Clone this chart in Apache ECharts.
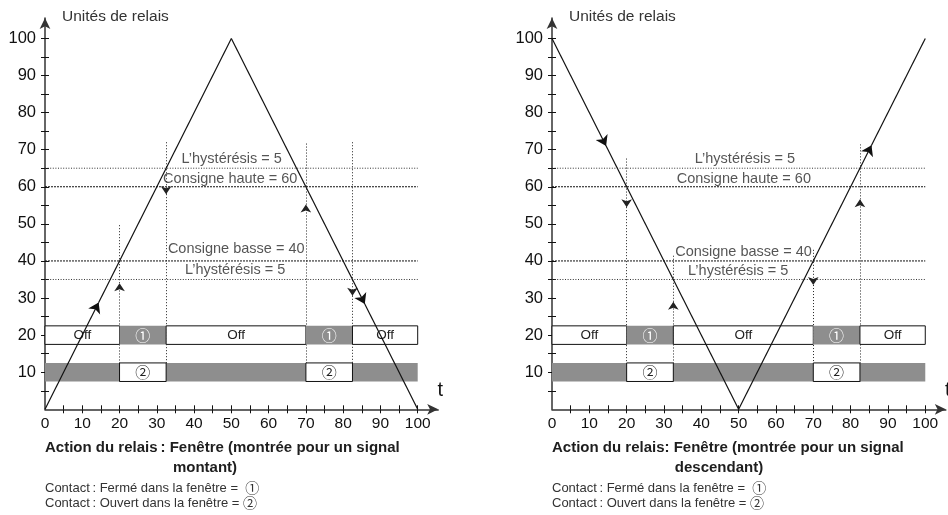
<!DOCTYPE html>
<html><head><meta charset="utf-8">
<script src="https://cdn.jsdelivr.net/npm/echarts@6/dist/echarts.min.js"></script>
<style>html,body{margin:0;padding:0;background:#fff}#c{width:948px;height:515px}</style>
</head><body><div id="c"></div>
<script>
// ---------- data ----------
const xTickValues = [5,10,15,20,25,30,35,40,45,50,55,60,65,70,75,80,85,90,95,100];
const xLabelValues = [0,10,20,30,40,50,60,70,80,90,100];
const yTickValues = [5,10,15,20,25,30,35,40,45,50,55,60,65,70,75,80,85,90,95,100];
const yLabelValues = [10,20,30,40,50,60,70,80,90,100];

const thresholdValues = [65, 60, 40, 35];
const thresholdIsSetpoint = [false, true, true, false];
const noteTexts = ['L\u2019hystérésis = 5', 'Consigne haute = 60', 'Consigne basse = 40', 'L\u2019hystérésis = 5'];

// left chart : rising signal
const risingPath = [[0,0],[50,100],[100,0]];
const risingArrows = [[14.4,28.8],[85.8,28.4]];
const risingSwitchX = [20, 32.5, 70, 82.5];
const risingSwitchTop = [50, 72, 72, 72];
const risingSwitchArrowY = [34, 58, 55.2, 30.6];
const risingSwitchUp = [true, false, true, false];
const risingNotesX = [50.1, 49.7, 51.3, 51.0];
const risingNotesY = [67.4, 62.0, 43.2, 37.5];

// right chart : falling signal
const fallingPath = [[0,100],[50,0],[100,100]];
const fallingArrows = [[14.5,71],[85.6,71.2]];
const fallingSwitchX = [20, 32.5, 70, 82.5];
const fallingSwitchTop = [67.6, 41.5, 43, 71.4];
const fallingSwitchArrowY = [54.5, 29, 33.5, 56.6];
const fallingSwitchUp = [false, true, false, true];
const fallingNotesX = [51.7, 51.4, 51.3, 49.9];
const fallingNotesY = [67.4, 62.0, 42.3, 37.4];

// contact rows (same for both charts)
const row1Start = [0, 20, 32.5, 70, 82.5];
const row1End = [20, 32.5, 70, 82.5, 100];
const row1Closed = [false, true, false, true, false];
const row1Labels = ['Off', '\u2460', 'Off', '\u2460', 'Off'];
const row1Y = 20;
const row2Start = [0, 20, 70];
const row2End = [100, 32.5, 82.5];
const row2Closed = [true, false, false];
const row2Labels = ['', '\u2461', '\u2461'];
const row2Y = 10;
const rowHalf = 2.5;

// ---------- styling ----------
const FONT = '"Liberation Sans", Arial, Helvetica, "DejaVu Sans", "Noto Sans CJK SC", sans-serif';
const CIRCLE_FONT = '"Noto Sans CJK SC", "DejaVu Sans", sans-serif';
const GRAY = '#8e8e8e';
const X_MAX = 105.5, Y_MAX = 105.5;

function isCircled(s){ return s === '\u2460' || s === '\u2461'; }

function mainX(gi){
  return {gridIndex:gi, type:'value', min:0, max:X_MAX, position:'bottom',
    name:'t', nameLocation:'end', nameGap:2,
    nameTextStyle:{fontFamily:FONT, fontSize:20, color:'#111', align:'center', verticalAlign:'bottom', padding:[0,0,9,0]},
    axisLine:{show:true, onZero:false, symbol:['none','arrow'], symbolSize:[8,11], lineStyle:{color:'#333', width:1.5}},
    axisTick:{show:true, customValues:xTickValues, length:4, lineStyle:{color:'#111', width:1}},
    axisLabel:{show:true, customValues:xLabelValues, fontFamily:FONT, fontSize:15.5, color:'#111', margin:7},
    splitLine:{show:false}};
}
function overlayX(gi){
  return {gridIndex:gi, type:'value', min:0, max:X_MAX, position:'bottom',
    axisLine:{show:false}, axisTick:{show:true, inside:true, customValues:xTickValues, length:4, lineStyle:{color:'#111', width:1}},
    axisLabel:{show:false}, splitLine:{show:false}};
}
function mainY(gi){
  return {gridIndex:gi, type:'value', min:0, max:Y_MAX, position:'left',
    name:'Unités de relais', nameLocation:'end', nameGap:1,
    nameTextStyle:{fontFamily:FONT, fontSize:15.5, color:'#333', align:'left', verticalAlign:'middle', padding:[0,0,0,17]},
    axisLine:{show:true, onZero:false, symbol:['none','arrow'], symbolSize:[8,11], lineStyle:{color:'#333', width:1.5}},
    axisTick:{show:true, customValues:yTickValues, length:4, lineStyle:{color:'#111', width:1}},
    axisLabel:{show:true, customValues:yLabelValues, fontFamily:FONT, fontSize:16.5, color:'#111', margin:9},
    splitLine:{show:false}};
}
function overlayY(gi){
  return {gridIndex:gi, type:'value', min:0, max:Y_MAX, position:'left',
    axisLine:{show:false}, axisTick:{show:true, inside:true, customValues:yTickValues, length:4, lineStyle:{color:'#111', width:1}},
    axisLabel:{show:false}, splitLine:{show:false}};
}

function boxSeries(axis, starts, ends, closed, labels, rowY, z){
  return {type:'custom', xAxisIndex:axis, yAxisIndex:axis, silent:true, z:z,
    encode:{x:[0,1], y:2},
    data: starts.map((s,i)=>[s, ends[i], rowY]),
    renderItem:function(params, api){
      const i = params.dataIndex;
      const tl = api.coord([api.value(0), api.value(2)+rowHalf]);
      const br = api.coord([api.value(1), api.value(2)-rowHalf]);
      const isClosed = closed[i];
      const lab = labels[i];
      return {type:'rect',
        shape:{x:tl[0], y:tl[1], width:br[0]-tl[0], height:br[1]-tl[1]},
        style:{fill: isClosed ? GRAY : '#fff', stroke: isClosed ? null : '#111', lineWidth:1},
        textContent:{style:{text:lab, fill: isClosed ? '#fff' : '#222',
          font: isCircled(lab) ? ('15px ' + CIRCLE_FONT) : ('13.5px ' + FONT)}},
        textConfig:{position:'inside'}};
    }};
}

function signalSeries(axis, path, arrows){
  const arrowSegs = [], plainSegs = [];
  for (let i=0;i<path.length-1;i++){
    arrowSegs.push({coords:[path[i], arrows[i]]});
    plainSegs.push({coords:[arrows[i], path[i+1]]});
  }
  const common = {type:'lines', coordinateSystem:'cartesian2d', xAxisIndex:axis, yAxisIndex:axis, silent:true, z:10,
    lineStyle:{color:'#111', width:1.2, opacity:1, curveness:0}};
  return [
    Object.assign({}, common, {symbol:['none','arrow'], symbolSize:10, data:arrowSegs}),
    Object.assign({}, common, {symbol:['none','none'], data:plainSegs})
  ];
}

function switchSeries(axis, xs, tops, arrowYs, ups){
  const bottom = row2Y - rowHalf;
  const arrowSegs = [], plainSegs = [];
  xs.forEach((x,i)=>{
    if (ups[i]) {
      arrowSegs.push({coords:[[x,bottom],[x,arrowYs[i]]]});
      plainSegs.push({coords:[[x,arrowYs[i]],[x,tops[i]]]});
    } else {
      arrowSegs.push({coords:[[x,tops[i]],[x,arrowYs[i]]]});
      plainSegs.push({coords:[[x,arrowYs[i]],[x,bottom]]});
    }
  });
  const common = {type:'lines', coordinateSystem:'cartesian2d', xAxisIndex:axis, yAxisIndex:axis, silent:true, z:3,
    lineStyle:{color:'#222', width:1, type:[1,2], opacity:1}};
  return [
    Object.assign({}, common, {symbol:['none','arrow'], symbolSize:8, data:arrowSegs}),
    Object.assign({}, common, {symbol:['none','none'], data:plainSegs})
  ];
}

function thresholdSeries(axis){
  return thresholdValues.map((v,i)=>({type:'line', xAxisIndex:axis, yAxisIndex:axis, silent:true, z:2,
    symbol:'none', animation:false,
    lineStyle:{color: thresholdIsSetpoint[i] ? '#111' : '#333', width:1, type: thresholdIsSetpoint[i] ? [2,1] : [1,1.6]},
    data:[[0,v],[100,v]]}));
}

function noteSeries(axis, xs, ys){
  return {type:'scatter', xAxisIndex:axis, yAxisIndex:axis, silent:true, z:12, symbolSize:1,
    itemStyle:{color:'rgba(0,0,0,0)'},
    label:{show:true, position:'inside', formatter:p=>p.name, fontFamily:FONT, fontSize:14.5, color:'#2a2a2a'},
    data: xs.map((x,i)=>({name:noteTexts[i], value:[x, ys[i]]}))};
}

function captions(left, lastWord, lastCenter, relaisText){
  const base = {fill:'#1e1e1e', font:'bold 15px ' + FONT};
  const rich = {c:{font:'14px ' + CIRCLE_FONT, fill:'#333'}};
  return [
    {type:'text', x:left, y:448, style:Object.assign({text:relaisText, textVerticalAlign:'middle', textAlign:'left'}, base)},
    {type:'text', x:lastCenter, y:468, style:Object.assign({text:lastWord, textVerticalAlign:'middle', textAlign:'center'}, base)},
    {type:'text', x:left, y:488, style:{text:'Contact\u2009: Fermé dans la fenêtre =  {c|\u2460}', font:'13px ' + FONT, fill:'#333', textVerticalAlign:'middle', rich:rich}},
    {type:'text', x:left, y:503, style:{text:'Contact\u2009: Ouvert dans la fenêtre = {c|\u2461}', font:'13px ' + FONT, fill:'#333', textVerticalAlign:'middle', rich:rich}}
  ];
}

const chart = echarts.init(document.getElementById('c'), null, {renderer:'canvas'});
const option = {
  backgroundColor:'#fff',
  animation:false,
  grid:[
    {left:45, top:18, width:393.2, height:391.3, outerBoundsMode:'none', containLabel:false},
    {left:552, top:18, width:393.8, height:391.3, outerBoundsMode:'none', containLabel:false}
  ],
  xAxis:[mainX(0), overlayX(0), mainX(1), overlayX(1)],
  yAxis:[mainY(0), overlayY(0), mainY(1), overlayY(1)],
  graphic:[].concat(
    captions(45, 'montant)', 205, 'Action du relais\u2009: Fenêtre (montrée pour un signal'),
    captions(552, 'descendant)', 719, 'Action du relais: Fenêtre (montrée pour un signal')
  ),
  series:[].concat(
    thresholdSeries(0),
    switchSeries(0, risingSwitchX, risingSwitchTop, risingSwitchArrowY, risingSwitchUp),
    [boxSeries(0, row1Start, row1End, row1Closed, row1Labels, row1Y, 5),
     boxSeries(0, row2Start, row2End, row2Closed, row2Labels, row2Y, 5)],
    signalSeries(0, risingPath, risingArrows),
    [noteSeries(0, risingNotesX, risingNotesY)],
    thresholdSeries(2),
    switchSeries(2, fallingSwitchX, fallingSwitchTop, fallingSwitchArrowY, fallingSwitchUp),
    [boxSeries(2, row1Start, row1End, row1Closed, row1Labels, row1Y, 5),
     boxSeries(2, row2Start, row2End, row2Closed, row2Labels, row2Y, 5)],
    signalSeries(2, fallingPath, fallingArrows),
    [noteSeries(2, fallingNotesX, fallingNotesY)]
  )
};
chart.setOption(option);
</script></body></html>
